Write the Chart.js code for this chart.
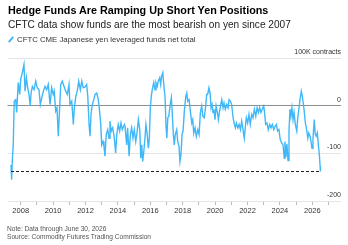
<!DOCTYPE html>
<html>
<head>
<meta charset="utf-8">
<script src="https://cdn.jsdelivr.net/npm/chart.js@4"></script>
<style>
  body { margin: 0; width: 348px; height: 245px; overflow: hidden; background: #fff;
         font-family: "Liberation Sans", Arial, sans-serif; }
  #wrap { position: relative; width: 348px; height: 245px; }
  canvas { position: absolute; left: 0; top: 0; }
  .txt { position: absolute; left: 8px; white-space: nowrap; }
  #title { top: 4px; font-size: 10.8px; font-weight: bold; color: #000; }
  #sub { top: 19px; font-size: 10.1px; color: #222; }
  #legend { top: 35px; left: 17px; font-size: 7.8px; color: #333; }
  #icon { position: absolute; left: 10px; top: 36px; width: 2px; height: 7px; background: #40b8f8;
          transform: rotate(40deg); }
  #note { top: 225px; left: 7px; font-size: 6.6px; color: #555; line-height: 7.5px; }
</style>
</head>
<body>
<div id="wrap">
  <canvas id="chart" width="348" height="245"></canvas>
  <div class="txt" id="title">Hedge Funds Are Ramping Up Short Yen Positions</div>
  <div class="txt" id="sub">CFTC data show funds are the most bearish on yen since 2007</div>
  <div id="icon"></div>
  <div class="txt" id="legend">CFTC CME Japanese yen leveraged funds net total</div>
  <div class="txt" id="note">Note: Data through June 30, 2026<br>Source: Commodity Futures Trading Commission</div>
</div>
<script>
// dates as decimal years, values in thousands of contracts
const dates = [
  2007.40, 2007.44, 2007.48, 2007.54, 2007.60, 2007.69, 2007.75, 2007.79, 2007.85, 2007.94,
  2008.00, 2008.10, 2008.20, 2008.27, 2008.35, 2008.43, 2008.51, 2008.59, 2008.64, 2008.72, 2008.82, 2008.93,
  2009.02, 2009.13, 2009.21, 2009.30, 2009.40, 2009.50, 2009.60, 2009.70, 2009.81, 2009.91,
  2010.01, 2010.07, 2010.16, 2010.24, 2010.32, 2010.38, 2010.47, 2010.57, 2010.67, 2010.78, 2010.88, 2010.98,
  2011.04, 2011.15, 2011.25, 2011.31, 2011.40, 2011.49, 2011.58, 2011.68, 2011.77, 2011.86, 2011.97,
  2012.07, 2012.14, 2012.22, 2012.28, 2012.34, 2012.42, 2012.51, 2012.59, 2012.69, 2012.79, 2012.85, 2012.94,
  2013.00, 2013.08, 2013.14, 2013.20, 2013.28, 2013.37, 2013.45, 2013.51, 2013.59, 2013.68, 2013.78, 2013.86, 2013.93,
  2014.02, 2014.11, 2014.19, 2014.27, 2014.40, 2014.44, 2014.54, 2014.60, 2014.69, 2014.77, 2014.85, 2014.93,
  2015.01, 2015.10, 2015.18, 2015.26, 2015.35, 2015.41, 2015.47, 2015.53, 2015.59, 2015.67, 2015.73, 2015.80, 2015.88, 2015.94,
  2016.00, 2016.06, 2016.12, 2016.21, 2016.29, 2016.35, 2016.43, 2016.49, 2016.58, 2016.64, 2016.70, 2016.77, 2016.83, 2016.91, 2016.97,
  2017.02, 2017.08, 2017.14, 2017.23, 2017.30, 2017.36, 2017.42, 2017.48, 2017.54, 2017.63, 2017.69, 2017.77, 2017.83, 2017.89, 2017.96,
  2018.02, 2018.10, 2018.19, 2018.25, 2018.31, 2018.39, 2018.47, 2018.56, 2018.62, 2018.68, 2018.76, 2018.84, 2018.93,
  2019.01, 2019.09, 2019.17, 2019.25, 2019.33, 2019.42, 2019.48, 2019.54, 2019.62, 2019.69, 2019.75, 2019.81, 2019.87, 2019.93, 2019.99,
  2020.06, 2020.14, 2020.20, 2020.26, 2020.35, 2020.41, 2020.49, 2020.55, 2020.63, 2020.72, 2020.80, 2020.86, 2020.94,
  2021.02, 2021.11, 2021.19, 2021.25, 2021.31, 2021.40, 2021.48, 2021.56, 2021.64, 2021.72, 2021.80, 2021.89, 2021.93,
  2022.01, 2022.09, 2022.17, 2022.26, 2022.34, 2022.42, 2022.51, 2022.59, 2022.67, 2022.75, 2022.83, 2022.91,
  2023.00, 2023.04, 2023.12, 2023.20, 2023.28, 2023.37, 2023.45, 2023.53, 2023.62, 2023.70, 2023.78, 2023.86, 2023.94,
  2024.02, 2024.11, 2024.19, 2024.27, 2024.31, 2024.37, 2024.43, 2024.50, 2024.56, 2024.62, 2024.68, 2024.74, 2024.81, 2024.87, 2024.95,
  2025.04, 2025.10, 2025.18, 2025.24, 2025.32, 2025.38, 2025.44, 2025.50, 2025.57, 2025.63, 2025.72, 2025.78, 2025.86, 2025.92, 2025.98,
  2026.04, 2026.12, 2026.18, 2026.24, 2026.31, 2026.38, 2026.44, 2026.48, 2026.50
];
const netTotal = [
  -124, -155, -117, -81, 10, 13, -14, 12, 49, 24,
  56, 70, 87, 31, 59, 38, 24, 0, 27, 41, 34, 52,
  38, 34, 3, 17, 31, 41, 34, 45, 3, 38,
  24, 31, -11, -4, -64, -22, 45, 52, 41, 31, 24, 45,
  3, 10, -39, -4, 20, 31, 52, 34, 52, 38, 40,
  45, 20, -39, -64, -18, 3, 13, 24, 27, 13, -4, -39,
  -82, -75, -85, -106, -60, -50, -68, -32, -53, -46, -68, -99, -60,
  -39, -53, -36, -50, -39, -43, -82, -46, -106, -60, -46, -68,
  -50, -75, -57, -29, -50, -110, -82, -117, -99, -68, -39, -57, -89, -68,
  -4, 20, 34, 49, 34, 49, 41, 52, 59, 45, 63, 70, 45, 18, -42,
  -68, -25, -22, 3, 17, -18, -60, -82, -60, -50, -75, -85, -117, -103, -60,
  -53, -11, 20, 27, 10, 13, -11, -36, -29, -57, -46, -64, -50,
  -60, -14, 0, -22, -25, 0, 24, 24, 38, 27, -4, 3, -14, -7, -29,
  0, -14, -29, -14, 3, 13, -4, 6, -7, 3, -4, 13, 10,
  3, -25, -39, -46, -36, -46, -39, -50, -32, -50, -68, -36, -25,
  -36, -18, -39, -18, -25, -7, -22, -4, -14, -4, -14, -7,
  0, -11, -39, -36, -50, -39, -46, -39, -50, -43, -39, -53, -50,
  -71, -78, -82, -110, -75, -108, -80, -115, -53, -7, -22, -4, -29, -14, -39,
  -53, -25, -4, 13, 31, 20, 6, -11, -36, -46, -68, -57, -64, -75, -89,
  -68, -29, -60, -64, -57, -85, -106, -127, -138
];
const yearTicks = [2008, 2010, 2012, 2014, 2016, 2018, 2020, 2022, 2024, 2026];
const valueTicks = [-200, -100, 0, 100];

const lastValue = netTotal[netTotal.length - 1];

new Chart(document.getElementById('chart'), {
  type: 'line',
  data: {
    datasets: [
      {
        // current level reference line
        data: [{x: dates[0], y: lastValue}, {x: dates[dates.length - 1], y: lastValue}],
        borderColor: '#222',
        borderWidth: 1.2,
        borderDash: [3, 2],
        pointRadius: 0
      },
      {
        data: dates.map((d, i) => ({x: d, y: netTotal[i]})),
        borderColor: '#40b8f8',
        borderWidth: 1.4,
        pointRadius: 0,
        tension: 0
      }
    ]
  },
  options: {
    responsive: false,
    animation: false,
    layout: {padding: {left: 7.5, right: 7, top: 58.3, bottom: 29}},
    plugins: {legend: {display: false}, tooltip: {enabled: false}},
    scales: {
      x: {
        type: 'linear',
        min: 2007.185,
        max: 2027.77,
        border: {display: false},
        grid: {drawOnChartArea: false, drawTicks: true, tickLength: 4, color: '#bbb'},
        ticks: {
          stepSize: 1,
          autoSkip: false,
          maxRotation: 0,
          includeBounds: false,
          padding: 1,
          color: '#333',
          font: {family: 'Liberation Sans', size: 7.5},
          callback: v => Number.isInteger(v) ? (yearTicks.includes(v) ? String(v) : '') : null
        }
      },
      y: {
        position: 'right',
        min: valueTicks[0],
        max: valueTicks[valueTicks.length - 1],
        border: {display: false},
        grid: {
          drawTicks: false,
          color: c => c.tick && c.tick.value === 0 ? '#8f8f8f' : '#e4e4e4'
        },
        ticks: {
          stepSize: 100,
          mirror: true,
          padding: 0,
          labelOffset: -6,
          color: '#333',
          font: {family: 'Liberation Sans', size: 7},
          callback: v => v === 100 ? '100K contracts' : String(v)
        }
      }
    }
  }
});
</script>
</body>
</html>
